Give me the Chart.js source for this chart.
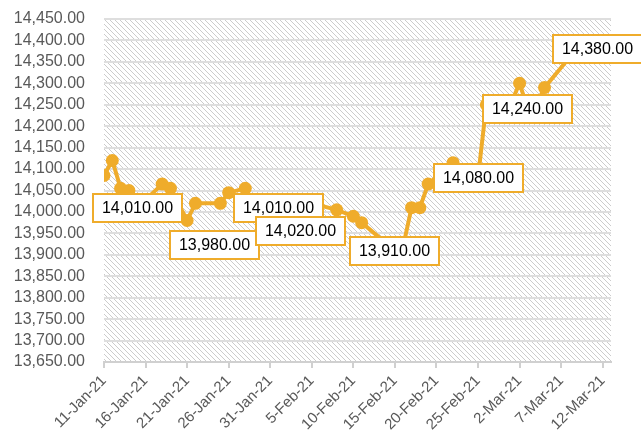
<!DOCTYPE html>
<html>
<head>
<meta charset="utf-8">
<script src="https://cdn.jsdelivr.net/npm/chart.js@4"></script>
<style>
  html, body { margin: 0; padding: 0; background: #fff; }
  #wrap { width: 641px; height: 440px; }
</style>
</head>
<body>
<div id="wrap"><canvas id="rate-chart" width="641" height="440"></canvas></div>
<script>
  // trading days and closing values
  const dates = [
    "2021-01-11", "2021-01-12", "2021-01-13", "2021-01-14", "2021-01-15",
    "2021-01-18", "2021-01-19", "2021-01-21", "2021-01-22",
    "2021-01-25", "2021-01-26", "2021-01-28", "2021-01-29",
    "2021-02-01", "2021-02-02", "2021-02-03", "2021-02-04", "2021-02-05",
    "2021-02-08", "2021-02-10", "2021-02-11",
    "2021-02-15", "2021-02-16", "2021-02-17", "2021-02-18", "2021-02-19",
    "2021-02-22", "2021-02-23", "2021-02-24", "2021-02-25", "2021-02-26",
    "2021-03-01", "2021-03-02", "2021-03-03", "2021-03-04", "2021-03-05",
    "2021-03-08", "2021-03-09", "2021-03-10", "2021-03-11",
  ];
  const values = [
    14085, 14120, 14055, 14050, 14010,
    14065, 14055, 13980, 14020,
    14020, 14045, 14055, 14015,
    14010, 14015, 14005, 14015, 14020,
    14005, 13990, 13975,
    13910, 13920, 14010, 14010, 14065,
    14115, 14090, 14085, 14080, 14250,
    14255, 14300, 14240, 14250, 14290,
    14360, 14370, 14375, 14380,
  ];
  // which points carry a boxed label, and where the box sits relative to the point
  const labelDates = ["2021-01-15", "2021-01-21", "2021-02-01", "2021-02-05", "2021-02-15", "2021-02-25", "2021-03-03", "2021-03-11"];
  const labelShift = [[0, 0], [27, 24], [0, 0], [-11, 28], [0, 0], [0, 0], [0, 0], [3, 0]];

  const axisStart = "2021-01-11";
  const axisEnd = "2021-03-12";
  const yMin = 13650;
  const yMax = 14450;
  const yStep = 50;

  const months = ["Jan", "Feb", "Mar", "Apr", "May", "Jun", "Jul", "Aug", "Sep", "Oct", "Nov", "Dec"];
  const DAY = 86400000;
  const t0 = Date.parse(axisStart);
  const toDay = (s) => Math.round((Date.parse(s) - t0) / DAY);

  const points = dates.map((d, i) => ({ x: toDay(d), y: values[i] }));

  const gold = "#EFAC2B";
  const grey = "#595959";
  const fmt = (v) => v.toLocaleString("en-US", { minimumFractionDigits: 2, maximumFractionDigits: 2 });

  function hatch(ctx) {
    const n = 5;
    const c = document.createElement("canvas");
    c.width = n;
    c.height = n;
    const g = c.getContext("2d");
    g.fillStyle = "#fff";
    g.fillRect(0, 0, n, n);
    g.fillStyle = "#cccccc";
    for (let i = 0; i < n; i++) g.fillRect(i, i, 1, 1);
    return ctx.createPattern(c, "repeat");
  }

  const hatchBackground = {
    id: "hatchBackground",
    beforeDraw(chart) {
      const { ctx, chartArea: a } = chart;
      ctx.save();
      ctx.fillStyle = hatch(ctx);
      ctx.fillRect(a.left, a.top, a.right - a.left, a.bottom - a.top);
      ctx.restore();
    },
  };

  const boxedLabels = {
    id: "boxedLabels",
    afterDatasetsDraw(chart) {
      const { ctx } = chart;
      const meta = chart.getDatasetMeta(0);
      ctx.save();
      ctx.font = "16px 'Liberation Sans', Arial, sans-serif";
      ctx.textAlign = "center";
      ctx.textBaseline = "middle";
      labelDates.forEach((d, k) => {
        const i = dates.indexOf(d);
        const el = meta.data[i];
        const text = fmt(values[i]);
        const w = Math.round(ctx.measureText(text).width) + 18;
        const h = 28;
        const cx = el.x + labelShift[k][0];
        const cy = el.y + labelShift[k][1];
        const x = Math.round(cx - w / 2);
        const y = Math.round(cy - h / 2);
        ctx.fillStyle = "#fff";
        ctx.fillRect(x, y, w, h);
        ctx.strokeStyle = gold;
        ctx.lineWidth = 2;
        ctx.strokeRect(x, y, w, h);
        ctx.fillStyle = "#000";
        ctx.fillText(text, x + w / 2, y + h / 2 + 1);
      });
      ctx.restore();
    },
  };

  new Chart(document.getElementById("rate-chart"), {
    type: "line",
    data: {
      datasets: [
        {
          data: points,
          borderColor: gold,
          backgroundColor: gold,
          borderWidth: 4,
          pointRadius: 6.5,
          pointBorderWidth: 0,
          pointBackgroundColor: gold,
          tension: 0,
        },
      ],
    },
    options: {
      responsive: false,
      animation: false,
      layout: { padding: { top: 19, right: 30, left: 0, bottom: 0 } },
      plugins: { legend: { display: false }, tooltip: { enabled: false } },
      scales: {
        x: {
          type: "linear",
          min: 0,
          max: toDay(axisEnd) + 1,
          afterFit: (s) => { s.height = 78; },
          afterBuildTicks: (s) => {
            const ticks = [];
            for (let v = 0; v <= toDay(axisEnd); v += 5) ticks.push({ value: v });
            s.ticks = ticks;
          },
          ticks: {
            autoSkip: false,
            maxRotation: 45,
            minRotation: 45,
            padding: 4,
            color: grey,
            font: { family: "'Liberation Sans', Arial, sans-serif", size: 15 },
            callback: (v) => {
              const d = new Date(t0 + v * DAY);
              return d.getUTCDate() + "-" + months[d.getUTCMonth()] + "-21";
            },
          },
          grid: {
            drawOnChartArea: false,
            drawTicks: true,
            tickLength: 6,
            color: "#d0d0d0",
            lineWidth: 2,
          },
          border: { display: true, color: "#d0d0d0", width: 2 },
        },
        y: {
          min: yMin,
          max: yMax,
          afterFit: (s) => { s.width = 104; },
          afterBuildTicks: (s) => {
            const ticks = [];
            for (let v = yMin; v <= yMax; v += yStep) ticks.push({ value: v });
            s.ticks = ticks;
          },
          ticks: {
            autoSkip: false,
            padding: 3,
            color: grey,
            font: { family: "'Liberation Sans', Arial, sans-serif", size: 16 },
            callback: (v) => fmt(v),
          },
          grid: {
            color: "#dedede",
            lineWidth: 2,
            drawTicks: true,
            tickLength: 16,
            tickColor: "rgba(0,0,0,0)",
          },
          border: { display: false },
        },
      },
    },
    plugins: [hatchBackground, boxedLabels],
  });
</script>
</body>
</html>
